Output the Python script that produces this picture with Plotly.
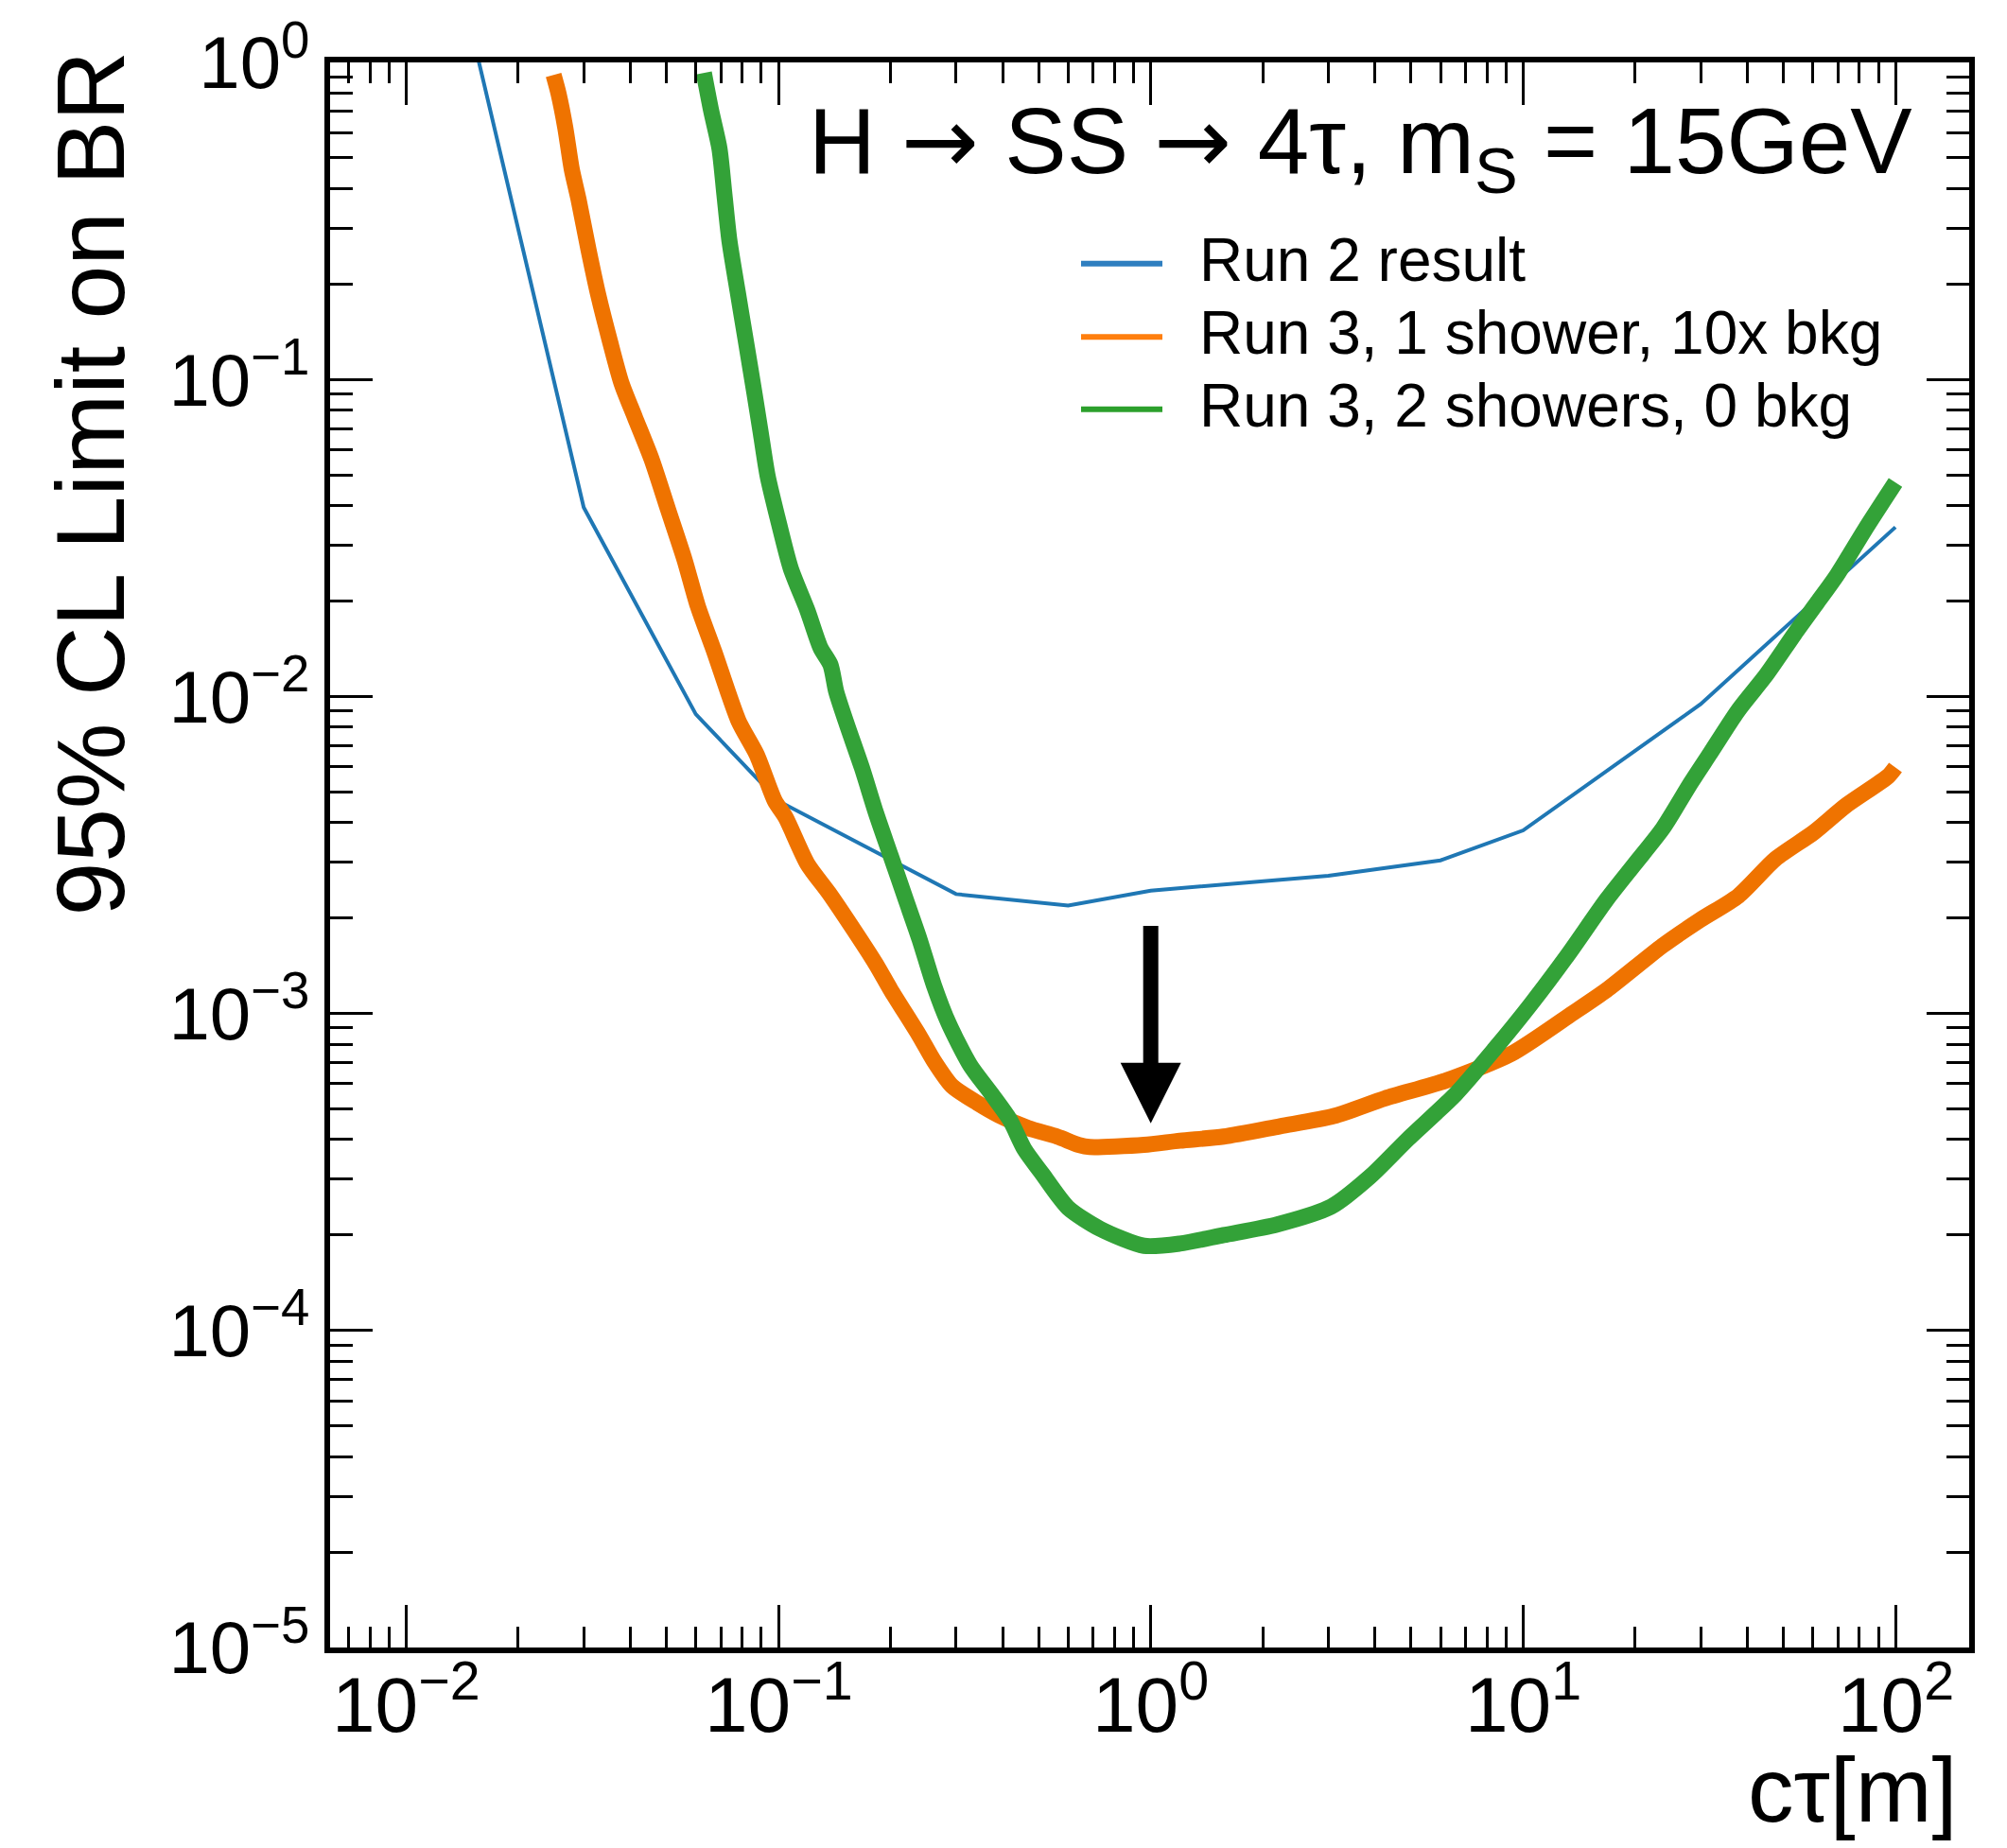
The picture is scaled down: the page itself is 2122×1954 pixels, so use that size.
import math
import plotly.graph_objects as go

# ---------------- data ----------------
run2_ctau = [0.01, 0.03, 0.06, 0.1, 0.3, 0.6, 1.0, 3.0, 6.0, 10.0, 30.0, 100.0]
run2_limit = [9.5, 0.0395, 0.00879, 0.00468, 0.00238, 0.00219, 0.00244,
              0.00272, 0.00304, 0.00378, 0.00946, 0.0342]

run3_1sh_ctau = [0.02490, 0.02569, 0.02677, 0.02787, 0.02904, 0.03089, 0.03285,
                 0.03531, 0.03792, 0.04116, 0.04563, 0.05053, 0.05598, 0.06074,
                 0.06734, 0.07815, 0.08745, 0.09777, 0.1046, 0.1196,
                 0.1368, 0.1600, 0.1830, 0.2001, 0.2393, 0.2617, 0.2928, 0.3424,
                 0.3915, 0.4686, 0.5603, 0.6409, 0.6850, 0.9589, 1.198, 1.569,
                 2.226, 3.103, 4.259, 6.226, 9.324, 13.63, 16.75, 23.72, 29.84,
                 37.85, 47.60, 60.36, 73.56, 95.52, 100.0]
run3_1sh_limit = [0.9126, 0.7953, 0.6229, 0.4595, 0.3710, 0.2573, 0.1840,
                  0.1316, 0.09710, 0.07606, 0.05609, 0.03890, 0.02698, 0.01929,
                  0.01379, 0.008369, 0.006556, 0.004688, 0.004150,
                  0.002967, 0.002396, 0.001823, 0.001428, 0.001190, 0.000850,
                  0.000708, 0.000590, 0.000522, 0.000477, 0.000435, 0.000409,
                  0.000385, 0.000379, 0.000385, 0.000397, 0.000409, 0.000441,
                  0.000475, 0.000540, 0.000615, 0.000747, 0.001004, 0.001185,
                  0.001638, 0.001970, 0.002349, 0.003070, 0.003726, 0.004524,
                  0.005598, 0.005971]

run3_2sh_ctau = [0.06307, 0.06598, 0.06946, 0.07163, 0.07388, 0.07771, 0.08182,
                 0.08612, 0.08975, 0.09354, 0.09949, 0.1079, 0.1196, 0.1298,
                 0.1380, 0.1430, 0.1530, 0.1674, 0.1830, 0.2001, 0.2188, 0.2393,
                 0.2617, 0.2864, 0.3273, 0.3746, 0.4185, 0.4578, 0.5124, 0.5993,
                 0.7327, 0.9589, 1.198, 1.569, 2.184, 3.055, 3.874, 4.911, 6.583,
                 8.348, 10.50, 13.21, 16.75, 19.93, 23.72, 28.23, 31.79, 37.85,
                 45.04, 53.60, 61.81, 69.59, 82.82, 100.0]
run3_2sh_limit = [0.9262, 0.7040, 0.5350, 0.3825, 0.2735, 0.1897, 0.1316,
                  0.09135, 0.06733, 0.04965, 0.03659, 0.02538, 0.01871, 0.01422,
                  0.01259, 0.01035, 0.008111, 0.005982, 0.004278, 0.003154,
                  0.002324, 0.001715, 0.001226, 0.000932, 0.000687, 0.000555,
                  0.000462, 0.000373, 0.000311, 0.000244, 0.000209, 0.000185,
                  0.000188, 0.000200, 0.000216, 0.000246, 0.000305, 0.000402,
                  0.000556, 0.000768, 0.001071, 0.001535, 0.002284, 0.002959,
                  0.003833, 0.005343, 0.006610, 0.009050, 0.01172, 0.01575,
                  0.01985, 0.02410, 0.03361, 0.04732]

series_names = ["Run 2 result", "Run 3, 1 shower, 10x bkg", "Run 3, 2 showers, 0 bkg"]

x_tick_vals = [0.01, 0.1, 1, 10, 100]
x_tick_text = ["10<sup>−2</sup>", "10<sup>−1</sup>", "10<sup>0</sup>",
               "10<sup>1</sup>", "10<sup>2</sup>"]
y_tick_vals = [1e-5, 1e-4, 1e-3, 1e-2, 1e-1, 1]
y_tick_text = ["10<sup>−5</sup>", "10<sup>−4</sup>", "10<sup>−3</sup>",
               "10<sup>−2</sup>", "10<sup>−1</sup>", "10<sup>0</sup>"]

arrow_ctau = 1.0
arrow_tip = 4.5e-4
arrow_tail = 1.91e-3

ARW = "<span style='font-family:DejaVu Sans'>→</span>"
title_text = "H " + ARW + " SS " + ARW + " 4τ, m<sub>S</sub> = 15GeV"
x_title = "cτ[m]"
y_title = "95% CL Limit on BR"

# ---------------- styling ----------------
W, H = 2122, 1954
L, R, T, B = 349, 40, 56, 212
PW, PH = W - L - R, H - T - B
FONT = "Liberation Sans, Arial, Helvetica, sans-serif"

line_colors = ["#1f77b4", "#ef7300", "#33a238"]
legend_colors = ["#2f7fc0", "#ff7f0e", "#2ca02c"]
line_widths = [4, 17, 17]
line_shapes = ["linear", "spline", "spline"]


def px_x(px):
    return (px - L) / PW


def px_y(py):
    return (H - B - py) / PH


minor_x = [d * 10 ** e for e in range(-3, 3) for d in range(2, 10)]
minor_y = [d * 10 ** e for e in range(-6, 1) for d in range(2, 10)]

fig = go.Figure()
for name, xs, ys, col, lw, shp in zip(series_names,
                                      [run2_ctau, run3_1sh_ctau, run3_2sh_ctau],
                                      [run2_limit, run3_1sh_limit, run3_2sh_limit],
                                      line_colors, line_widths, line_shapes):
    line = dict(color=col, width=lw, shape=shp)
    if shp == "spline":
        line["smoothing"] = 0.7
    fig.add_trace(go.Scatter(x=xs, y=ys, mode="lines", name=name, line=line,
                             showlegend=False, hoverinfo="skip"))

axis_common = dict(type="log", showline=True, linewidth=6, linecolor="black",
                   mirror="allticks", ticks="inside", ticklen=45, tickwidth=3,
                   tickcolor="black", tickmode="array", showgrid=False,
                   zeroline=False)

fig.update_xaxes(range=[-2.204, 2.198], tickvals=x_tick_vals, ticktext=x_tick_text,
                 showticklabels=False,
                 minor=dict(ticks="inside", ticklen=22, tickwidth=2.5,
                            tickcolor="black", tickmode="array",
                            tickvals=minor_x, showgrid=False),
                 **axis_common)
fig.update_yaxes(range=[-5, 0], tickvals=y_tick_vals, ticktext=y_tick_text,
                 tickfont=dict(family=FONT, size=78, color="black"),
                 minor=dict(ticks="inside", ticklen=24, tickwidth=2.5,
                            tickcolor="black", tickmode="array",
                            tickvals=minor_y, showgrid=False),
                 **axis_common)

annotations = []
# x tick labels (placed close under the axis, as in the reference)
for v, t in zip(x_tick_vals, x_tick_text):
    annotations.append(dict(x=math.log10(v), y=px_y(1797), xref="x", yref="paper",
                            xanchor="center", yanchor="middle", showarrow=False,
                            text=t, font=dict(family=FONT, size=82, color="black")))
# arrow
annotations.append(dict(x=math.log10(arrow_ctau), y=math.log10(arrow_tip),
                        ax=math.log10(arrow_ctau), ay=math.log10(arrow_tail),
                        xref="x", yref="y", axref="x", ayref="y", text="",
                        showarrow=True, arrowhead=2, arrowwidth=16,
                        arrowsize=0.8, arrowcolor="black", standoff=0))
# title inside frame
annotations.append(dict(x=px_x(2024), y=px_y(146), xref="paper", yref="paper",
                        xanchor="right", yanchor="middle", showarrow=False,
                        text=title_text,
                        font=dict(family=FONT, size=98, color="black")))
# axis titles
annotations.append(dict(x=px_x(96), y=px_y(42), xref="paper", yref="paper",
                        xanchor="center", yanchor="top", textangle=-90,
                        showarrow=False, text=y_title,
                        font=dict(family=FONT, size=102, color="black")))
annotations.append(dict(x=px_x(2072), y=px_y(1893), xref="paper", yref="paper",
                        xanchor="right", yanchor="middle", showarrow=False,
                        text=x_title,
                        font=dict(family=FONT, size=97, color="black")))

# manual legend
shapes = []
row_text_y = [266, 344, 421]
row_line_y = [270, 348, 425]
for name, col, ty, ly in zip(series_names, legend_colors, row_text_y, row_line_y):
    shapes.append(dict(type="line", xref="paper", yref="paper",
                       x0=px_x(1143), x1=px_x(1229), y0=px_y(ly), y1=px_y(ly),
                       line=dict(color=col, width=6)))
    annotations.append(dict(x=px_x(1266), y=px_y(ty), xref="paper", yref="paper",
                            xanchor="left", yanchor="middle", showarrow=False,
                            text=name,
                            font=dict(family=FONT, size=64, color="black")))

fig.update_layout(width=W, height=H,
                  margin=dict(l=L, r=R, t=T, b=B, pad=0),
                  plot_bgcolor="white", paper_bgcolor="white",
                  showlegend=False, annotations=annotations, shapes=shapes)

fig.write_html("out.html")
